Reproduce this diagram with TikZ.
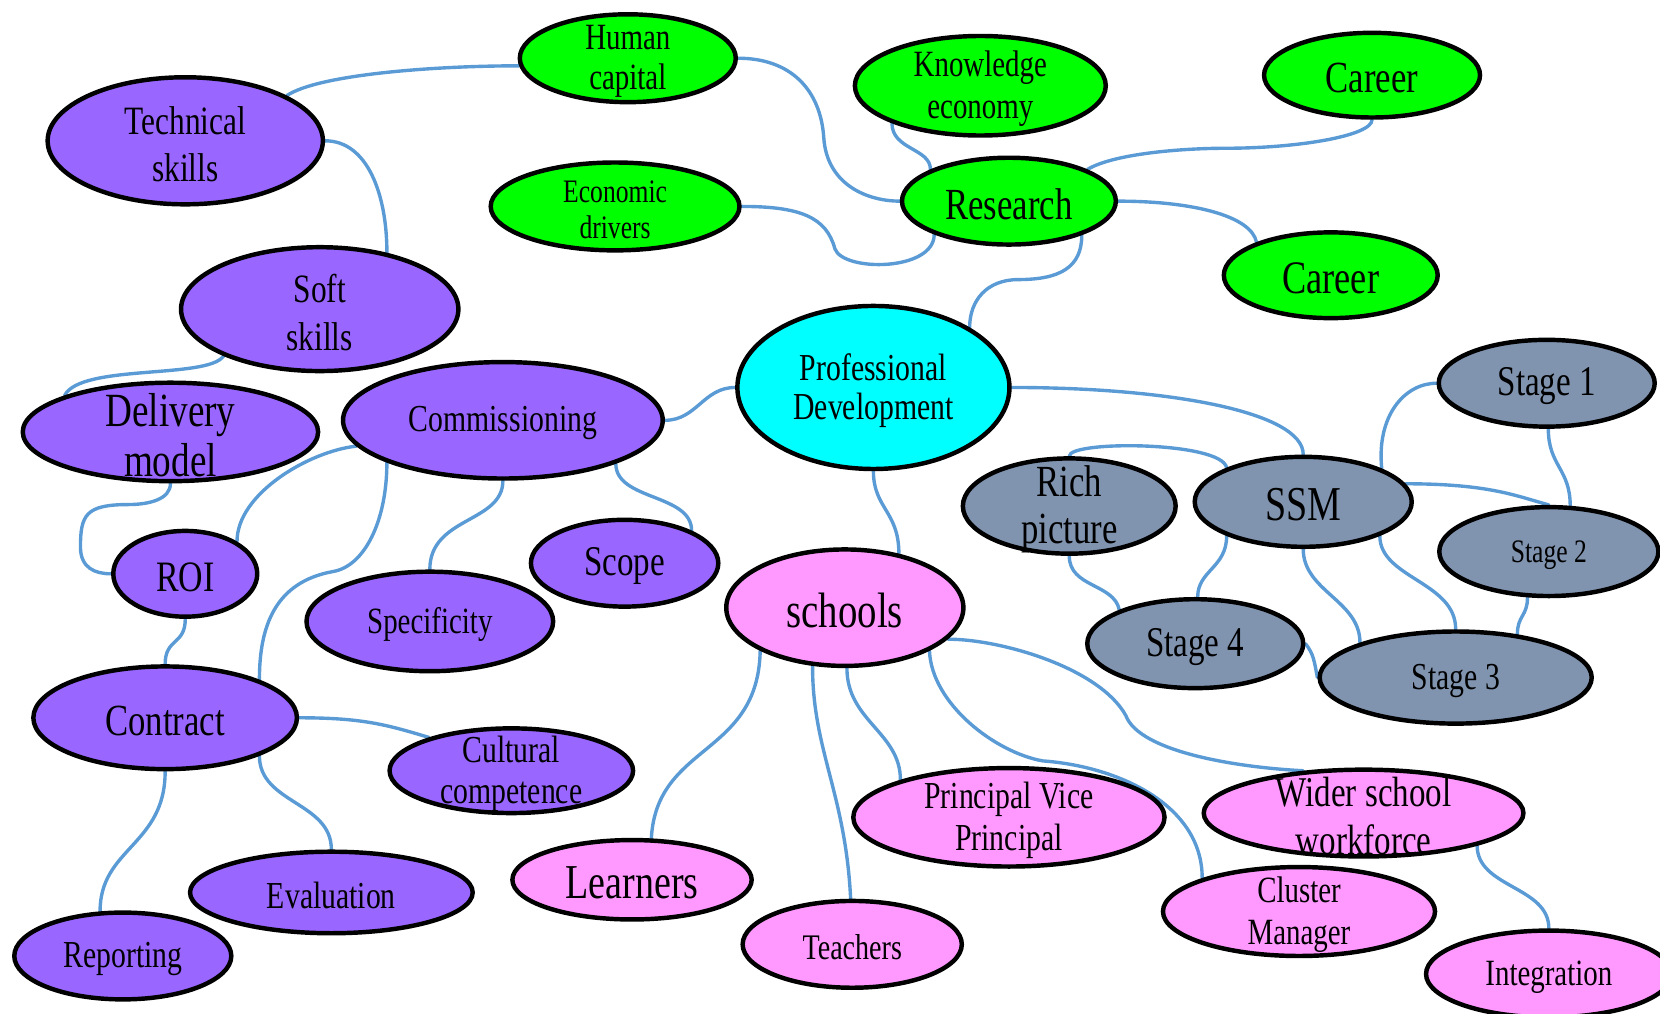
\documentclass[tikz,border=0pt]{standalone}
\usepackage{fontspec}
\setmainfont{Liberation Serif}[FakeStretch=0.78]
\usetikzlibrary{shapes.geometric,backgrounds}
\definecolor{grn}{RGB}{0,255,0}
\definecolor{cyn}{RGB}{0,255,255}
\definecolor{pur}{RGB}{153,102,255}
\definecolor{pnk}{RGB}{255,153,255}
\definecolor{gry}{RGB}{128,148,176}
\definecolor{wirec}{RGB}{91,155,213}
\newcommand\fz[2]{\fontsize{#1}{#2}\selectfont}
\begin{document}
\begin{tikzpicture}[x=1pt,y=-1pt,
  bub/.style={ellipse,draw=black,line width=4.2pt,inner sep=0pt},
  txt/.style={align=center,inner sep=0pt,text=black,yshift=-3pt},
  wire/.style={draw=wirec,line width=3.2pt,line cap=round}]
\useasboundingbox (0,0) rectangle (1568,957);

% --- research branch (green) ---
\node[bub,fill=grn,minimum width=204,minimum height=83,label={[txt,font=\fz{35}{38}]center:{Human\\capital}}] (hc) at (593,55) {};
\node[bub,fill=grn,minimum width=237,minimum height=94,label={[txt,font=\fz{35}{40}]center:{Knowledge\\economy}}] (ke) at (926,81) {};
\node[bub,fill=grn,minimum width=204,minimum height=80,label={[txt,font=\fz{42}{42}]center:Career}] (car1) at (1296,71) {};
\node[bub,fill=grn,minimum width=235,minimum height=83,label={[txt,font=\fz{31}{34}]center:{Economic\\drivers}}] (ed) at (581,195) {};
\node[bub,fill=grn,minimum width=202,minimum height=82,label={[txt,font=\fz{42}{42}]center:Research}] (res) at (953,190) {};
\node[bub,fill=grn,minimum width=202,minimum height=81,label={[txt,font=\fz{44}{44}]center:Career}] (car2) at (1257,260) {};

% --- hub ---
\node[bub,fill=cyn,minimum width=257,minimum height=154,label={[txt,font=\fz{36}{37}]center:{Professional\\Development}}] (pd) at (825,366) {};

% --- commissioning branch (purple) ---
\node[bub,fill=pur,minimum width=260,minimum height=120,label={[txt,font=\fz{38}{44}]center:{Technical\\skills}}] (tech) at (175,133) {};
\node[bub,fill=pur,minimum width=262,minimum height=117,label={[txt,font=\fz{38}{45}]center:{Soft\\skills}}] (soft) at (302,292) {};
\node[bub,fill=pur,minimum width=279,minimum height=93,label={[txt,font=\fz{45}{47}]center:{Delivery\\model}}] (dm) at (161,408) {};
\node[bub,fill=pur,minimum width=302,minimum height=110,label={[txt,font=\fz{36}{36}]center:Commissioning}] (comm) at (475,397) {};
\node[bub,fill=pur,minimum width=136,minimum height=81,label={[txt,font=\fz{41}{41}]center:ROI}] (roi) at (175,542) {};
\node[bub,fill=pur,minimum width=233,minimum height=94,label={[txt,font=\fz{35}{35}]center:Specificity}] (spec) at (406,587) {};
\node[bub,fill=pur,minimum width=177,minimum height=82,label={[txt,font=\fz{40}{40}]center:Scope}] (scope) at (590,532) {};
\node[bub,fill=pur,minimum width=249,minimum height=97,label={[txt,font=\fz{42}{42}]center:Contract}] (contract) at (156,678) {};
\node[bub,fill=pur,minimum width=230,minimum height=80,label={[txt,font=\fz{36}{39}]center:{Cultural\\competence}}] (cult) at (483,728) {};
\node[bub,fill=pur,minimum width=267,minimum height=77,label={[txt,font=\fz{36}{36}]center:Evaluation}] (eval) at (313,843) {};
\node[bub,fill=pur,minimum width=205,minimum height=82,label={[txt,font=\fz{36}{36}]center:Reporting}] (rep) at (116,903) {};

% --- schools branch (pink) ---
\node[bub,fill=pnk,minimum width=224,minimum height=110,label={[txt,font=\fz{47}{47}]center:schools}] (sch) at (798,574) {};
\node[bub,fill=pnk,minimum width=226,minimum height=75,label={[txt,font=\fz{46}{46}]center:Learners}] (learn) at (597,831) {};
\node[bub,fill=pnk,minimum width=207,minimum height=82,label={[txt,font=\fz{34}{34}]center:Teachers}] (teach) at (805,892) {};
\node[bub,fill=pnk,minimum width=294,minimum height=93,label={[txt,font=\fz{36}{40}]center:{Principal Vice\\Principal}}] (pvp) at (953,772) {};
\node[bub,fill=pnk,minimum width=302,minimum height=82,label={[txt,font=\fz{40}{45}]center:{Wider school\\workforce}}] (wsw) at (1288,768) {};
\node[bub,fill=pnk,minimum width=257,minimum height=84,label={[txt,font=\fz{35}{40}]center:{Cluster\\Manager}}] (cm) at (1227,861) {};
\node[bub,fill=pnk,minimum width=232,minimum height=82,label={[txt,font=\fz{35}{35}]center:Integration}] (integ) at (1463,920) {};

% --- SSM branch (grey) ---
\node[bub,fill=gry,minimum width=204,minimum height=82,label={[txt,font=\fz{40}{40}]center:Stage 1}] (s1) at (1461,362) {};
\node[bub,fill=gry,minimum width=205,minimum height=85,label={[txt,font=\fz{46}{46}]center:SSM}] (ssm) at (1231,474) {};
\node[bub,fill=gry,minimum width=201,minimum height=90,label={[txt,font=\fz{42}{45}]center:{Rich\\picture}}] (rich) at (1010,478) {};
\node[bub,fill=gry,minimum width=207,minimum height=84,label={[txt,font=\fz{31}{31}]center:Stage 2}] (s2) at (1463,521) {};
\node[bub,fill=gry,minimum width=204,minimum height=84,label={[txt,font=\fz{40}{40}]center:Stage 4}] (s4) at (1129,608) {};
\node[bub,fill=gry,minimum width=257,minimum height=87,label={[txt,font=\fz{36}{36}]center:Stage 3}] (s3) at (1375,640) {};

% --- connectors, behind the bubbles ---
\begin{pgfonlayer}{background}
\draw[wire] (tech.24) .. controls +(30,-20) and +(-80,0) .. (hc.184);
\draw[wire] (tech.east) .. controls +(40,0) and +(0,-55) .. (soft.40);
\draw[wire] (soft.206) .. controls +(-15,22) and +(15,-30) .. (dm.161);
\draw[wire] (dm.south) .. controls +(0,15) and +(20,0) .. ++(-40,20)
  .. controls +(-40,0) and +(0,-30) .. ++(-45,40)
  .. controls +(0,20) and +(-15,0) .. (roi.west);
\draw[wire] (comm.190) .. controls +(-45,5) and +(0,-45) .. (roi.32);
\draw[wire] (comm.200) .. controls +(0,55) and +(30,-5) .. ++(-51,103)
  .. controls +(-55,10) and +(0,-50) .. (contract.22);
\draw[wire] (comm.south) .. controls +(0,40) and +(0,-50) .. (spec.north);
\draw[wire] (comm.-21) .. controls +(0,35) and +(0,-35) .. (scope.26);
\draw[wire] (comm.east) .. controls +(30,0) and +(-30,0) .. (pd.west);
\draw[wire] (roi.south) .. controls +(0,25) and +(0,-25) .. (contract.north);
\draw[wire] (contract.east) .. controls +(60,0) and +(-40,-12) .. (cult.158);
\draw[wire] (contract.south) .. controls +(0,70) and +(0,-60) .. (rep.117);
\draw[wire] (contract.-22) .. controls +(0,45) and +(0,-45) .. (eval.north);

\draw[wire] (hc.east) .. controls +(50,0) and +(-3,-45) .. ++(81,75)
  .. controls +(3,45) and +(-30,0) .. (res.west);
\draw[wire] (ed.east) .. controls +(55,0) and +(-8,-30) .. ++(88,40)
  .. controls +(8,22) and +(0,35) .. (res.204);
\draw[wire] (ke.203) .. controls +(0,25) and +(0,-20) .. (res.158);
\draw[wire] (res.22) .. controls +(25,-15) and +(-40,0) .. ++(130,-20)
  .. controls +(70,0) and +(0,15) .. (car1.south);
\draw[wire] (res.east) .. controls +(70,0) and +(-5,-25) .. (car2.156);
\draw[wire] (res.-25) .. controls +(0,30) and +(40,0) .. ++(-60,42)
  .. controls +(-30,0) and +(0,-25) .. (pd.32);

\draw[wire] (pd.east) .. controls +(150,0) and +(0,-40) .. (ssm.north);
\draw[wire] (pd.south) .. controls +(0,35) and +(0,-40) .. (sch.45);

\draw[wire] (rich.north) .. controls +(0,-15) and +(-5,-25) .. (ssm.156);
\draw[wire] (ssm.10) .. controls +(80,0) and +(-30,-8) .. (s2.north);
\draw[wire] (ssm.23) .. controls +(-5,-50) and +(-30,0) .. (s1.west);
\draw[wire] (s1.-88) .. controls +(0,35) and +(0,-35) .. (s2.65);
\draw[wire] (rich.south) .. controls +(0,30) and +(-5,-25) .. (s4.156);
\draw[wire] (ssm.204) .. controls +(0,30) and +(0,-25) .. (s4.87);
\draw[wire] (ssm.south) .. controls +(0,40) and +(0,-40) .. (s3.160);
\draw[wire] (ssm.-24) .. controls +(0,40) and +(0,-45) .. (s3.north);
\draw[wire] (s2.-115) .. controls +(0,18) and +(0,-18) .. (s3.35);
\draw[wire] (s4.east) .. controls +(8,10) and +(-3,-15) .. (s3.west);

\draw[wire] (sch.207) .. controls +(-2,100) and +(5,-90) .. (learn.65);
\draw[wire] (sch.241) .. controls +(0,80) and +(-5,-100) .. (teach.92);
\draw[wire] (sch.-88) .. controls +(0,50) and +(0,-45) .. (pvp.161);
\draw[wire] (sch.-27) .. controls +(2,50) and +(-45,-8) .. ++(107,104)
  .. controls +(70,5) and +(0,-70) .. (cm.161);
\draw[wire] (sch.-17) .. controls +(50,0) and +(-25,-45) .. ++(168,72)
  .. controls +(13,35) and +(-60,-3) .. (wsw.145);
\draw[wire] (wsw.-16) .. controls +(0,40) and +(0,-40) .. (integ.north);
\end{pgfonlayer}
\end{tikzpicture}
\end{document}
